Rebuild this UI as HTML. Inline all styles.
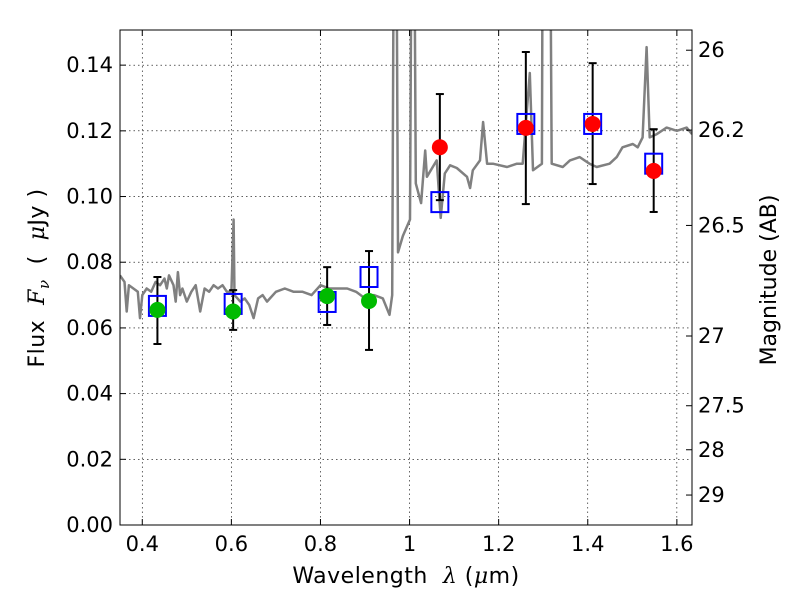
<!DOCTYPE html>
<html><head><meta charset="utf-8"><style>
body{margin:0;background:#fff;}
svg{font-family:"DejaVu Sans","Liberation Sans",sans-serif;}
</style></head><body>
<svg id="chart" width="800" height="600" xmlns="http://www.w3.org/2000/svg">
<rect width="800" height="600" fill="#fff"/>
<defs><clipPath id="clip"><rect x="120" y="30" width="572" height="495"/></clipPath></defs>
<g id="grid"></g>
<g id="spec" clip-path="url(#clip)"></g>
<g id="marks"></g>
<rect x="120" y="30" width="572" height="495" fill="none" stroke="#000" stroke-width="1"/>
<g id="axes"></g>
<text x="406" y="583" font-size="22" letter-spacing="0.5" text-anchor="middle" xml:space="preserve" style="white-space:pre">Wavelength  <tspan font-style="italic" font-family="DejaVu Serif,serif">λ</tspan> (<tspan font-style="italic" font-family="DejaVu Serif,serif">μ</tspan>m)</text>
<text transform="translate(44,278) rotate(-90)" font-size="22" letter-spacing="0.5" text-anchor="middle" xml:space="preserve" style="white-space:pre">Flux  <tspan font-style="italic" font-family="DejaVu Serif,serif">F</tspan><tspan font-style="italic" font-family="DejaVu Serif,serif" font-size="15" dy="5">ν</tspan><tspan dy="-5">  (  </tspan><tspan font-style="italic" font-family="DejaVu Serif,serif">μ</tspan>Jy )</text>
<text transform="translate(776,280) rotate(-90)" font-size="22" text-anchor="middle">Magnitude (AB)</text>
</svg>
<script>
const specLam=[0.35,0.36,0.365,0.37,0.38,0.39,0.395,0.40,0.41,0.42,0.43,0.44,0.45,0.455,0.46,0.47,0.475,0.48,0.485,0.49,0.50,0.51,0.52,0.53,0.54,0.55,0.56,0.57,0.58,0.59,0.60,0.605,0.607,0.62,0.63,0.64,0.65,0.66,0.67,0.68,0.70,0.72,0.74,0.76,0.78,0.80,0.82,0.84,0.86,0.88,0.90,0.92,0.94,0.955,0.961,0.965,0.970,0.974,0.985,1.001,1.005,1.010,1.014,1.026,1.035,1.039,1.061,1.070,1.079,1.091,1.106,1.129,1.136,1.142,1.158,1.165,1.174,1.187,1.219,1.241,1.254,1.270,1.277,1.297,1.299,1.315,1.319,1.344,1.360,1.382,1.404,1.420,1.449,1.465,1.478,1.501,1.512,1.523,1.532,1.539,1.555,1.577,1.600,1.622,1.634];
const specFlux=[0.076,0.074,0.065,0.073,0.072,0.071,0.063,0.070,0.072,0.071,0.074,0.073,0.075,0.072,0.076,0.073,0.068,0.077,0.070,0.072,0.068,0.071,0.073,0.065,0.072,0.071,0.073,0.072,0.073,0.071,0.071,0.093,0.070,0.068,0.069,0.067,0.063,0.069,0.070,0.068,0.071,0.072,0.071,0.071,0.070,0.073,0.072,0.072,0.072,0.071,0.069,0.070,0.069,0.064,0.070,0.20,0.20,0.083,0.088,0.093,0.20,0.20,0.104,0.098,0.114,0.106,0.111,0.0935,0.107,0.1095,0.1087,0.106,0.1026,0.108,0.111,0.1227,0.110,0.110,0.109,0.110,0.110,0.1376,0.108,0.110,0.20,0.20,0.110,0.109,0.111,0.112,0.110,0.109,0.110,0.112,0.115,0.116,0.115,0.118,0.1455,0.118,0.119,0.121,0.120,0.121,0.119];
const greenLam=[0.434,0.604,0.815,0.909];
const greenFlux=[0.0655,0.065,0.0697,0.0682];
const redLam=[1.068,1.261,1.411,1.548];
const redFlux=[0.115,0.1209,0.1221,0.1078];
const sqLam=[0.434,0.604,0.815,0.909,1.068,1.261,1.411,1.548];
const sqFlux=[0.0667,0.0673,0.0679,0.0755,0.0983,0.1221,0.1221,0.110];
const errLo=[0.0551,0.0594,0.0609,0.0533,0.0989,0.0977,0.1038,0.0953];
const errHi=[0.0755,0.0715,0.0785,0.0834,0.1312,0.144,0.1406,0.1205];
const xTicks=[0.4,0.6,0.8,1.0,1.2,1.4,1.6];
const xTickLabels=["0.4","0.6","0.8","1","1.2","1.4","1.6"];
const yTicks=[0,0.02,0.04,0.06,0.08,0.10,0.12,0.14];
const yTickLabels=["0.00","0.02","0.04","0.06","0.08","0.10","0.12","0.14"];
const magTicks=[26,26.2,26.5,27,27.5,28,29];
const magLabels=["26","26.2","26.5","27","27.5","28","29"];

const X0=120,X1=692,Y0=525,Y1=30,LMIN=0.35,LMAX=1.634,FMIN=0,FMAX=0.1507;
const sx=l=>X0+(l-LMIN)/(LMAX-LMIN)*(X1-X0);
const sy=f=>Y0-(f-FMIN)/(FMAX-FMIN)*(Y0-Y1);
const NS="http://www.w3.org/2000/svg";
function mk(tag,attrs,parent){const e=document.createElementNS(NS,tag);for(const k in attrs)e.setAttribute(k,attrs[k]);parent.appendChild(e);return e;}
const grid=document.getElementById('grid'),axes=document.getElementById('axes'),spec=document.getElementById('spec'),marks=document.getElementById('marks');

xTicks.forEach((t,i)=>{const x=sx(t);
 let g=mk('line',{x1:x,x2:x,y1:Y1,y2:Y0,stroke:'#000','stroke-width':0.6,'stroke-dasharray':'1.5,3'},grid);
 
 mk('line',{x1:x,x2:x,y1:Y0,y2:Y0-6,stroke:'#000'},axes);mk('line',{x1:x,x2:x,y1:Y1,y2:Y1+6,stroke:'#000'},axes);
 let tx=mk('text',{x:x,y:Y0+26,'font-size':21,'text-anchor':'middle'},axes);tx.textContent=xTickLabels[i];
 });
yTicks.forEach((t,i)=>{const y=sy(t);
 if(t>0){let g=mk('line',{x1:X0,x2:X1,y1:y,y2:y,stroke:'#000','stroke-width':0.6,'stroke-dasharray':'1.5,3'},grid);
 }
 mk('line',{x1:X0,x2:X0+6,y1:y,y2:y,stroke:'#000'},axes);
 let tx=mk('text',{x:X0-7,y:y+7,'font-size':21,'text-anchor':'end'},axes);tx.textContent=yTickLabels[i];
 });
magTicks.forEach((m,i)=>{const y=sy(Math.pow(10,(23.9-m)/2.5));
 mk('line',{x1:X1,x2:X1-6,y1:y,y2:y,stroke:'#000'},axes);
 let tx=mk('text',{x:X1+6,y:y+7,'font-size':21},axes);tx.textContent=magLabels[i];
 });

const pts=specLam.map((l,i)=>sx(l).toFixed(1)+','+sy(specFlux[i]).toFixed(1)).join(' ');
const pl=mk('polyline',{points:pts,fill:'none',stroke:'#808080','stroke-width':2.5,'stroke-linejoin':'round'},spec);



sqLam.forEach((l,i)=>{const x=sx(l);
 const e=mk('g',{stroke:'#000','stroke-width':2},marks);
 
 
 mk('line',{x1:x,x2:x,y1:sy(errLo[i]),y2:sy(errHi[i])},e);
 mk('line',{x1:x-4,x2:x+4,y1:sy(errLo[i]),y2:sy(errLo[i])},e);
 mk('line',{x1:x-4,x2:x+4,y1:sy(errHi[i]),y2:sy(errHi[i])},e);});
sqLam.forEach((l,i)=>{const x=sx(l),y=sy(sqFlux[i]);
 const r=mk('rect',{x:x-8.5,y:y-10,width:17,height:20,fill:'none',stroke:'#0000ff','stroke-width':2},marks);
 
 });
greenLam.forEach((l,i)=>{const c=mk('circle',{cx:sx(l),cy:sy(greenFlux[i]),r:8,fill:'#00bb00'},marks);
 
 });
redLam.forEach((l,i)=>{const c=mk('circle',{cx:sx(l),cy:sy(redFlux[i]),r:8,fill:'#ff0000'},marks);
 
 });
</script>
</body></html>
